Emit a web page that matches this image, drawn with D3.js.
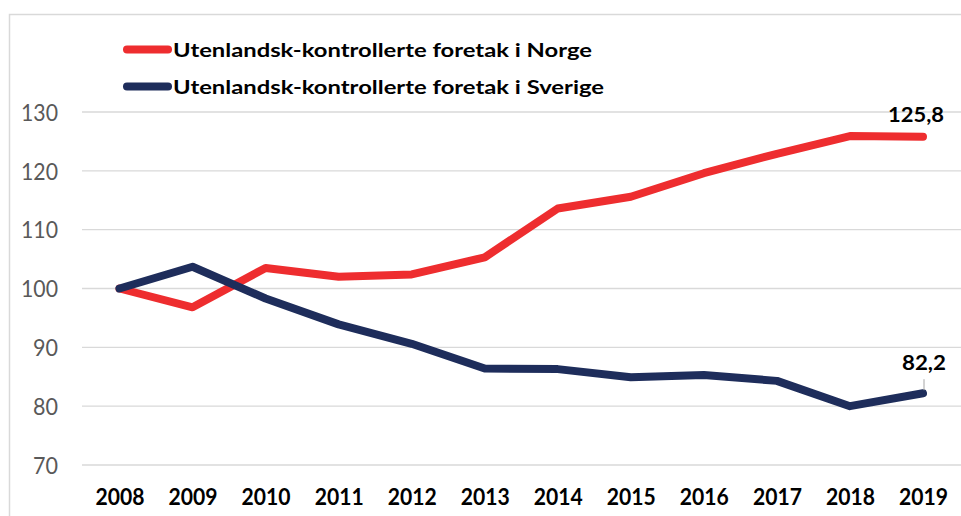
<!DOCTYPE html>
<html><head><meta charset="utf-8">
<script src="https://cdn.jsdelivr.net/npm/d3@7"></script>
<style>
body{margin:0;background:#fff;}
svg{display:block;}
</style></head>
<body>
<svg id="chart" width="961" height="516"></svg>
<script>
const years = ["2008","2009","2010","2011","2012","2013","2014","2015","2016","2017","2018","2019"];
const norge = [100, 96.8, 103.5, 102.0, 102.4, 105.3, 113.6, 115.6, 119.6, 122.9, 125.9, 125.8];
const sverige = [100, 103.7, 98.3, 93.9, 90.6, 86.4, 86.3, 84.9, 85.3, 84.3, 80.0, 82.2];
const yTicks = [70, 80, 90, 100, 110, 120, 130];
const seriesNames = ["Utenlandsk-kontrollerte foretak i Norge", "Utenlandsk-kontrollerte foretak i Sverige"];
const colors = ["#EE2D2F", "#1E2D5B"];

const svg = d3.select("#chart");
const font = "Lato, 'Open Sans', sans-serif";

// chart border
svg.append("rect").attr("x",9.5).attr("y",14.5).attr("width",1000).attr("height",1000)
  .attr("fill","none").attr("stroke","#d9d9d9").attr("stroke-width",1.5);

const plotLeft = 82;
const x = d3.scalePoint().domain(years).range([119.5, 923]);
const y = d3.scaleLinear().domain([70,130]).range([465,112]);

// gridlines
svg.append("g").selectAll("line").data(yTicks).join("line")
  .attr("x1",plotLeft).attr("x2",961)
  .attr("y1",d=>y(d)).attr("y2",d=>y(d))
  .attr("stroke","#d9d9d9").attr("stroke-width",1.3);

// y axis
const yAxis = svg.append("g").attr("transform","translate(58,0)")
  .call(d3.axisLeft(y).tickValues(yTicks).tickSize(0).tickPadding(0));
yAxis.select(".domain").remove();
yAxis.selectAll("text").attr("font-family",font).attr("font-size",23).attr("fill","#595959")
  .attr("dy","0.36em")
  .attr("textLength",d=>String(d).length===3?37:25).attr("lengthAdjust","spacingAndGlyphs");

// x axis
const xAxis = svg.append("g").attr("transform","translate(0,505)")
  .call(d3.axisBottom(x).tickSize(0).tickPadding(0));
xAxis.select(".domain").remove();
xAxis.selectAll("text").attr("font-family",font).attr("font-size",22).attr("font-weight","bold").attr("fill","#000")
  .attr("dy","0").attr("y",0)
  .attr("textLength",49).attr("lengthAdjust","spacingAndGlyphs");

// lines
const line = d3.line().x((d,i)=>x(years[i])).y(d=>y(d));
[norge, sverige].forEach((s,i)=>{
  svg.append("path").datum(s).attr("d",line)
    .attr("fill","none").attr("stroke",colors[i]).attr("stroke-width",8)
    .attr("stroke-linecap","round").attr("stroke-linejoin","round");
});

// data labels
const last = years[years.length-1];
svg.append("text").attr("x",x(last)-7).attr("y",y(norge[11])-14.5)
  .attr("text-anchor","middle").attr("font-family",font).attr("font-size",20).attr("font-weight","bold")
  .attr("textLength",56).attr("lengthAdjust","spacingAndGlyphs")
  .text(String(norge[11]).replace(".",","));
svg.append("line").attr("x1",x(last)+1).attr("x2",x(last)+1)
  .attr("y1",y(sverige[11])-14).attr("y2",y(sverige[11])-3)
  .attr("stroke","#a6a6a6").attr("stroke-width",1);
svg.append("text").attr("x",x(last)+1).attr("y",y(sverige[11])-23)
  .attr("text-anchor","middle").attr("font-family",font).attr("font-size",20).attr("font-weight","bold")
  .attr("textLength",44).attr("lengthAdjust","spacingAndGlyphs")
  .text(String(sverige[11]).replace(".",","));

// legend
const legendLens = [419, 431];
const lg = svg.append("g");
seriesNames.forEach((n,i)=>{
  const ly = 49.5 + i*37;
  lg.append("line").attr("x1",127).attr("x2",168).attr("y1",ly).attr("y2",ly)
    .attr("stroke",colors[i]).attr("stroke-width",8).attr("stroke-linecap","round");
  lg.append("text").attr("x",173).attr("y",ly+7).attr("font-family",font).attr("font-size",18.5)
    .attr("font-weight","bold").attr("fill","#000")
    .attr("textLength",legendLens[i]).attr("lengthAdjust","spacingAndGlyphs").text(n);
});
</script>
</body></html>
